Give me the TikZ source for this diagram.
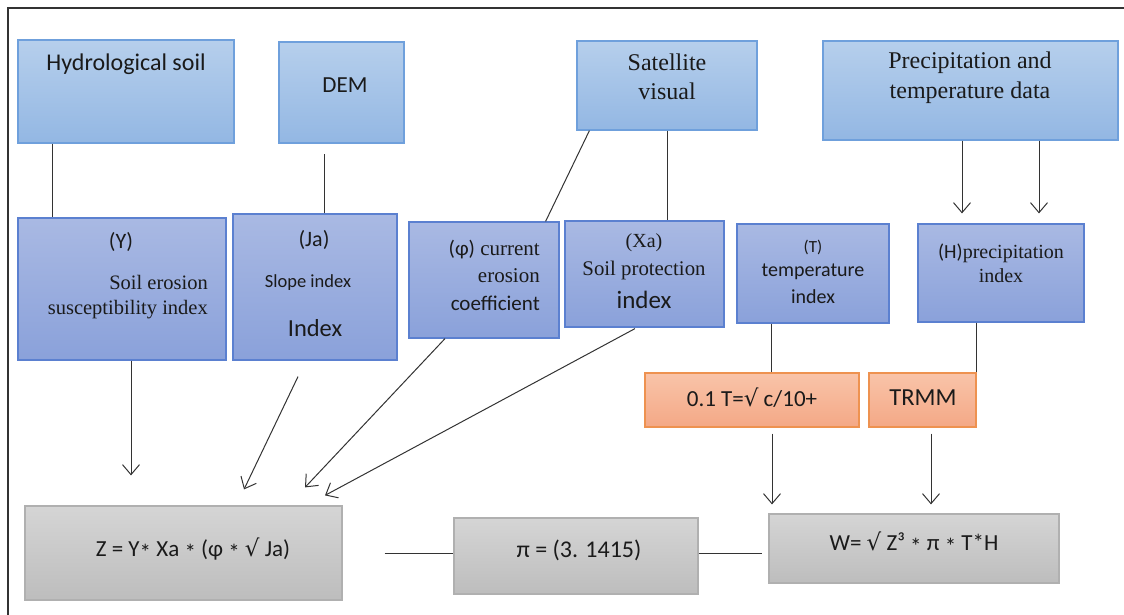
\documentclass[tikz,border=0pt]{standalone}
\usepackage{fontspec}
\setmainfont{Liberation Serif}
\setsansfont{Carlito}
\newfontfamily\symf{DejaVu Sans}
\usetikzlibrary{arrows.meta}

\definecolor{srctop}{HTML}{B6CFEC}
\definecolor{srcbot}{HTML}{93B7E3}
\definecolor{srcline}{HTML}{6FA0DC}
\definecolor{idxtop}{HTML}{A9B9E3}
\definecolor{idxbot}{HTML}{8AA1DA}
\definecolor{idxline}{HTML}{5B80D0}
\definecolor{calctop}{HTML}{F9C4A9}
\definecolor{calcbot}{HTML}{F4A886}
\definecolor{calcline}{HTML}{EE9250}
\definecolor{eqtop}{HTML}{D5D5D5}
\definecolor{eqbot}{HTML}{BDBDBD}
\definecolor{eqline}{HTML}{B0B0B0}
\definecolor{txtcol}{HTML}{1A1A1A}
\definecolor{lncol}{HTML}{333333}

\newcommand{\sqr}{{\symf √}}
\newcommand{\mul}{\raisebox{-0.35ex}{*}}

\begin{document}
\begin{tikzpicture}[x=1pt, y=-1pt,
    srcbox/.style={draw=srcline, line width=1.2pt, top color=srctop, bottom color=srcbot, inner sep=0pt},
    idxbox/.style={draw=idxline, line width=1.2pt, top color=idxtop, bottom color=idxbot, inner sep=0pt},
    calcbox/.style={draw=calcline, line width=1.2pt, top color=calctop, bottom color=calcbot, inner sep=0pt},
    eqbox/.style={draw=eqline, line width=1.2pt, top color=eqtop, bottom color=eqbot, inner sep=0pt},
    txt/.style={inner sep=0pt, text=txtcol},
    sf/.style={txt, font=\sffamily\fontsize{#1}{#1}\selectfont},
    rm/.style={txt, font=\rmfamily\fontsize{#1}{#1}\selectfont},
    link/.style={draw=lncol, line width=1pt},
    arr/.style={link, -{Straight Barb[length=10pt, width=17pt]}}
  ]
    \useasboundingbox (0,0) rectangle (1124,615);

    % Frame
    \draw[lncol, line width=1.6pt] (8,615) -- (8,8) -- (1124,8);

    % Data sources
    \node[srcbox, minimum width=216pt, minimum height=103pt] (hyd) at (126,91.5) {};
    \node[srcbox, minimum width=125pt, minimum height=101pt] (dem) at (341.5,92.5) {};
    \node[srcbox, minimum width=180pt, minimum height=89pt] (sat) at (667,85.5) {};
    \node[srcbox, minimum width=295pt, minimum height=99pt] (prec) at (970.5,90.5) {};

    % Indices
    \node[idxbox, minimum width=208pt, minimum height=142pt] (yidx) at (122,289) {};
    \node[idxbox, minimum width=164pt, minimum height=146pt] (ja) at (315,287) {};
    \node[idxbox, minimum width=150pt, minimum height=116pt] (phi) at (484,280) {};
    \node[idxbox, minimum width=159pt, minimum height=106pt] (xa) at (644.5,274) {};
    \node[idxbox, minimum width=152pt, minimum height=99pt] (tidx) at (813,273.5) {};
    \node[idxbox, minimum width=166pt, minimum height=98pt] (hidx) at (1001,273) {};

    % Intermediate steps
    \node[calcbox, minimum width=214pt, minimum height=54pt] (tcalc) at (752,400) {};
    \node[calcbox, minimum width=107pt, minimum height=54pt] (trmm) at (922.5,400) {};

    % Equations
    \node[eqbox, minimum width=317pt, minimum height=94pt] (zeq) at (183.5,553) {};
    \node[eqbox, minimum width=244pt, minimum height=76pt] (pieq) at (576,556) {};
    \node[eqbox, minimum width=290pt, minimum height=69pt] (weq) at (914,548.5) {};

    % Labels
    \node[sf=24] (hydtxt) at (126,64) {Hydrological soil};
    \node[sf=23] (demtxt) at (345,85) {DEM};
    \node[txt, align=center, font=\rmfamily\fontsize{24}{29}\selectfont] (sattxt) at (667,77) {Satellite\\visual};
    \node[txt, align=center, font=\rmfamily\fontsize{24}{30}\selectfont] (prectxt) at (970,78) {Precipitation and\\temperature data};

    \node[sf=22] (ytxt1) at (121,242) {(Y)};
    \node[txt, anchor=east, align=right, font=\rmfamily\fontsize{20.5}{25}\selectfont] (ytxt2) at (208,297) {Soil erosion\\susceptibility index};
    \node[sf=22] (jatxt1) at (314,240) {(Ja)};
    \node[sf=18.5] (jatxt2) at (308,283) {Slope index};
    \node[sf=24.5] (jatxt3) at (315,328) {Index};
    \node[txt, anchor=east, align=right, font=\rmfamily\fontsize{21}{27.5}\selectfont] (phitxt) at (540,275) {{\sffamily(φ)} current\\erosion\\{\sffamily coefficient}};
    \node[rm=20] (xatxt1) at (644,243) {(Xa)};
    \node[rm=20.8] (xatxt2) at (644,270) {Soil protection};
    \node[sf=25] (xatxt3) at (644,300) {index};
    \node[sf=17] (ttxt1) at (813,247) {(T)};
    \node[sf=20] (ttxt2) at (813,272) {temperature};
    \node[sf=20] (ttxt3) at (813,297) {index};
    \node[rm=20] (htxt1) at (1001,253) {{\sffamily(H)}precipitation};
    \node[rm=20] (htxt2) at (1001,276) {index};

    \node[sf=23] (tctxt) at (752,398) {0.1 T=\sqr{} c/10+};
    \node[sf=24.5] (trmmtxt) at (923,398) {TRMM};

    \node[sf=23] (ztxt) at (193,549) {Z = Y\mul{} Xa \mul{} (φ \mul{} \sqr{} Ja)};
    \node[sf=24] (pitxt) at (579,550) {π = (3. 1415)};
    \node[sf=23] (wtxt) at (914,543) {W= \sqr{} Z³ \mul{} π \mul{} T*H};

    % Connectors
    \draw[link] (hyd.south -| 52,0) -- (yidx.north -| 52,0);
    \draw[link] (ja.north -| 324,0) -- +(0,-59);
    \draw[link] ([xshift=13pt]sat.south west) -- ([xshift=-14pt]phi.north east);
    \draw[link] (sat.south) -- (sat.south |- xa.north);
    \draw[arr, shorten >=10pt] (prec.south -| 962,0) -- (hidx.north -| 962,0);
    \draw[arr, shorten >=10pt] (prec.south -| 1039,0) -- (hidx.north -| 1039,0);

    \draw[arr, shorten >=30pt] (yidx.south -| 131,0) -- (zeq.north -| 131,0);
    \draw[arr] ([shift={(-17,16)}]ja.south) -- ([shift={(60.5,-16)}]zeq.north);
    \draw[arr] ([shift={(-39,0)}]phi.south) -- ([shift={(121.5,-18)}]zeq.north);
    \draw[arr] ([shift={(-9.5,1)}]xa.south) -- ([shift={(141.5,-10)}]zeq.north);

    \draw[link] (tidx.south -| 771,0) -- (tcalc.north -| 771,0);
    \draw[link] (trmm.north east |- hidx.south) -- (trmm.north east);
    \draw[arr, shorten <=6pt, shorten >=9pt] (tcalc.south -| 772,0) -- (weq.north -| 772,0);
    \draw[arr, shorten <=6pt, shorten >=9pt] (trmm.south -| 931,0) -- (weq.north -| 931,0);

    \draw[link] ([xshift=42pt]zeq.east) -- (pieq.west |- zeq.east);
    \draw[link, shorten >=6pt] (pieq.east |- zeq.east) -- (weq.west |- zeq.east);
\end{tikzpicture}
\end{document}
